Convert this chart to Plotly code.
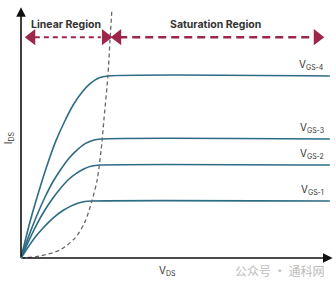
import plotly.graph_objects as go

# ---- data (arbitrary units: VDS on x, IDS on y) ----
vgs_labels = ["V<sub>GS-1</sub>", "V<sub>GS-2</sub>", "V<sub>GS-3</sub>", "V<sub>GS-4</sub>"]
vgs1_x = [0, 0.23, 0.46, 0.69, 0.92, 1.16, 1.39, 1.62, 1.85, 2.08, 2.31, 10.06]
vgs1_y = [0, 0.44, 0.84, 1.18, 1.48, 1.74, 1.95, 2.11, 2.23, 2.30, 2.32, 2.32]
vgs2_x = [0, 0.26, 0.51, 0.77, 1.03, 1.29, 1.54, 1.80, 2.06, 2.31, 2.57, 10.06]
vgs2_y = [0, 0.72, 1.36, 1.93, 2.42, 2.84, 3.18, 3.44, 3.63, 3.74, 3.78, 3.78]
vgs3_x = [0, 0.26, 0.52, 0.78, 1.04, 1.31, 1.57, 1.83, 2.09, 2.35, 2.61, 10.06]
vgs3_y = [0, 0.92, 1.74, 2.47, 3.10, 3.63, 4.07, 4.40, 4.65, 4.79, 4.84, 4.84]
vgs4_x = [0, 0.28, 0.57, 0.85, 1.13, 1.42, 1.70, 1.98, 2.26, 2.55, 2.83, 10.06]
vgs4_y = [0, 1.41, 2.66, 3.77, 4.74, 5.55, 6.22, 6.73, 7.10, 7.33, 7.40, 7.40]
boundary_x = [0, 0.62, 1.27, 1.76, 2.08, 2.31, 2.48, 2.61, 2.70, 2.83, 2.90, 2.96]
boundary_y = [0, 0.08, 0.33, 0.81, 1.46, 2.32, 3.17, 4.39, 5.61, 7.40, 8.86, 10.1]
region_labels = ["Linear Region", "Saturation Region"]

curves = [(vgs1_x, vgs1_y), (vgs2_x, vgs2_y), (vgs3_x, vgs3_y), (vgs4_x, vgs4_y)]

CURVE = "#2d6c83"
RED = "#9c2749"
TXT = "#333333"

fig = go.Figure()

for (xs, ys) in curves:
    fig.add_trace(go.Scatter(x=xs, y=ys, mode="lines",
                             line=dict(color=CURVE, width=1.6, shape="spline", smoothing=0.8),
                             hoverinfo="skip", showlegend=False))

fig.add_trace(go.Scatter(x=boundary_x, y=boundary_y, mode="lines",
                         line=dict(color="#666666", width=1.3, dash="4px,3px", shape="spline", smoothing=0.8),
                         hoverinfo="skip", showlegend=False))

# region arrows (dashed shaft + triangular heads)
arr_y = 8.98
fig.add_trace(go.Scatter(x=[0.45, 2.6], y=[arr_y, arr_y], mode="lines",
                         line=dict(color=RED, width=2, dash="5px,4px"),
                         hoverinfo="skip", showlegend=False))
fig.add_trace(go.Scatter(x=[3.2, 9.7], y=[arr_y, arr_y], mode="lines",
                         line=dict(color=RED, width=2.5, dash="8px,5px"),
                         hoverinfo="skip", showlegend=False))
fig.add_trace(go.Scatter(x=[0.35, 3.15], y=[arr_y, arr_y], mode="markers",
                         marker=dict(symbol="triangle-left", size=14, color=RED),
                         hoverinfo="skip", showlegend=False))
fig.add_trace(go.Scatter(x=[2.75, 9.65], y=[arr_y, arr_y], mode="markers",
                         marker=dict(symbol="triangle-right", size=14, color=RED),
                         hoverinfo="skip", showlegend=False))

ann = []
# axes with arrows
ann.append(dict(x=0, y=10.2, ax=0, ay=0, xref="x", yref="y", axref="x", ayref="y",
                text="", showarrow=True, arrowhead=2, arrowsize=1.2, arrowwidth=1.6, arrowcolor="#111111"))
ann.append(dict(x=10.15, y=0, ax=0, ay=0, xref="x", yref="y", axref="x", ayref="y",
                text="", showarrow=True, arrowhead=2, arrowsize=1.2, arrowwidth=1.6, arrowcolor="#111111"))

ann.append(dict(x=1.45, y=9.5, xref="x", yref="y", text="<b>" + region_labels[0] + "</b>",
                showarrow=False, font=dict(family="Inter, Roboto, sans-serif", size=10.5, color=TXT)))
ann.append(dict(x=6.35, y=9.5, xref="x", yref="y", text="<b>" + region_labels[1] + "</b>",
                showarrow=False, font=dict(family="Inter, Roboto, sans-serif", size=10.5, color=TXT)))

for lab, (xs, ys) in zip(vgs_labels, curves):
    ann.append(dict(x=9.95, y=ys[-1], xref="x", yref="y", text=lab, showarrow=False,
                    xanchor="right", yanchor="bottom", yshift=2,
                    font=dict(family="Inter, Roboto, sans-serif", size=10, color=TXT)))

ann.append(dict(x=-0.37, y=4.9, xref="x", yref="y", text="I<sub>DS</sub>", showarrow=False,
                textangle=-90, font=dict(family="Inter, Roboto, sans-serif", size=10, color=TXT)))
ann.append(dict(x=4.78, y=-0.52, xref="x", yref="y", text="V<sub>DS</sub>", showarrow=False,
                font=dict(family="Inter, Roboto, sans-serif", size=10, color=TXT)))
ann.append(dict(x=9.95, y=-0.5, xref="x", yref="y", text="公众号 · 通科网", showarrow=False,
                xanchor="right", font=dict(family="Noto Sans CJK SC", size=12, color="#bdbdbd")))

fig.update_layout(
    width=336, height=281, margin=dict(l=0, r=0, t=0, b=0),
    paper_bgcolor="white", plot_bgcolor="white",
    xaxis=dict(range=[-0.684, 10.26], visible=False, fixedrange=True),
    yaxis=dict(range=[-0.935, 10.49], visible=False, fixedrange=True),
    annotations=ann, showlegend=False,
)

fig.write_html("out.html")
